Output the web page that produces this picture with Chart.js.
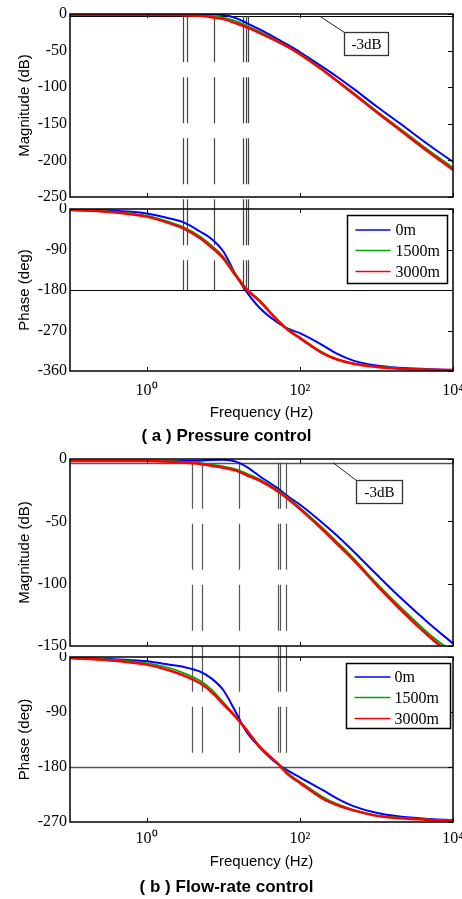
<!DOCTYPE html>
<html>
<head>
<meta charset="utf-8">
<title>Bode plots</title>
<script src="https://cdn.jsdelivr.net/npm/chart.js@4.4.1/dist/chart.umd.min.js"></script>
<style>
  body { margin: 0; background: #fff; }
  #wrap { position: relative; width: 462px; height: 899px; overflow: hidden; }
  #wrap canvas { position: absolute; left: 0; }
</style>
</head>
<body>
<div id="wrap">
  <canvas id="magA" width="462" height="203" style="top:0px"></canvas>
  <canvas id="phaseA" width="462" height="244" style="top:203px"></canvas>
  <canvas id="magB" width="462" height="205" style="top:447px"></canvas>
  <canvas id="phaseB" width="462" height="247" style="top:652px"></canvas>
</div>
<script>
// frequency grid shared by every trace (Hz)
const freqHz = [0.1, 0.3, 1, 2, 3, 5, 7, 10, 15, 20, 30, 50, 70, 100, 200, 300, 500, 1000, 2000, 5000, 10000];
const depthLabels = ['0m', '1500m', '3000m'];
const decadeTicks = [1, 100, 10000];

// (a) pressure control
const pressMag0    = [-0.5, -0.5, -0.5, -0.5, -0.5, -0.5, -0.6, -1.4, -6, -12, -21, -33.5, -42.3, -52, -72.5, -85, -102, -126, -149, -180, -202];
const pressMag1500 = [-0.8, -0.8, -0.8, -0.9, -1.1, -1.8, -3, -5, -10, -16, -24, -36, -44.5, -54, -76, -90, -107.5, -132.5, -156, -187.5, -210];
const pressMag3000 = [-1, -1, -1, -1.2, -1.5, -2.5, -4.3, -7, -13, -18, -26, -37, -45, -55, -77, -91, -109, -134, -158, -190, -213];
const pressPh0     = [-1, -3, -10, -21, -29, -50, -66, -94, -150, -183, -220, -251, -266, -276, -303, -321, -337, -348, -353, -356, -358];
const pressPh1500  = [-2, -5, -15, -29, -40, -61, -81, -106, -148, -176, -203, -244, -267, -285, -319, -333, -343, -350, -354, -357, -358];
const pressPh3000  = [-2, -6, -17, -32, -43, -65, -85, -110, -151, -178, -205, -246, -269, -287, -321, -334, -344, -351, -355, -357, -358];

// (b) flow-rate control
const flowMag0    = [-1.5, -1.5, -1.5, -1.5, -1.5, -1.4, -0.8, -0.6, -2.3, -6.2, -13.8, -23, -30, -36.5, -51.5, -61, -74, -92.5, -110.5, -132.5, -148];
const flowMag1500 = [-1.5, -1.5, -1.5, -1.8, -2.3, -3.3, -4.5, -6, -8.5, -11.5, -16.3, -24.5, -31, -39, -55.5, -66, -79.5, -99.5, -118, -141, -155];
const flowMag3000 = [-1.6, -1.6, -1.7, -2.2, -2.8, -4, -5.4, -7, -9.5, -12.9, -17.4, -25.5, -32, -40, -57, -67.5, -81, -101, -120, -143, -158];
const flowPh0     = [-1, -3, -7, -12.5, -16, -24, -35, -54, -93, -122, -148, -174, -186, -197, -218, -231, -244, -255, -261, -265, -267];
const flowPh1500  = [-1.5, -4, -10, -18, -26, -39, -53, -74, -99, -118, -146, -172, -190, -204, -229, -240, -250, -259, -263, -266, -267.5];
const flowPh3000  = [-2, -5, -12.5, -22, -30, -43, -57, -77, -100, -119, -147, -173, -192, -206, -232, -242, -251, -260, -264, -266.7, -268];

// bandwidth markers (Hz)
const pressMarkers = [3.0, 3.39, 7.62, 18.2, 19.7, 21.2];
const flowMarkers  = [3.94, 5.22, 16, 52.7, 54.8, 65.1];

const traceColors = ['#0000ff', '#00a600', '#ff0000'];
const traceWidths = [2, 1.8, 2.5];

const serif = 'Liberation Serif';
const sans = 'Liberation Sans';

function traces(sets) {
    return sets.map((vals, i) => ({
        label: depthLabels[i],
        data: freqHz.map((f, k) => ({ x: f, y: vals[k] })),
        borderColor: traceColors[i],
        borderWidth: traceWidths[i],
        pointRadius: 0,
        fill: false,
        cubicInterpolationMode: 'monotone',
        order: 3 - i
    }));
}

function supDigits(n) {
    const map = { '-': '\u207b', '0': '\u2070', '1': '\u00b9', '2': '\u00b2', '3': '\u00b3', '4': '\u2074' };
    return String(n).split('').map(c => map[c]).join('');
}

// frame, inward ticks, reference line, markers, legend and note
function bodeDecor(cfg) {
    return {
        id: 'bodeDecor',
        beforeDatasetsDraw(chart) {
            const { ctx, chartArea: a, scales: { x, y } } = chart;
            ctx.save();
            const yr = Math.round(y.getPixelForValue(cfg.refValue)) + 0.5;
            ctx.strokeStyle = cfg.refColor;
            ctx.lineWidth = cfg.refWidth;
            ctx.beginPath();
            ctx.moveTo(a.left, yr);
            ctx.lineTo(a.right, yr);
            ctx.stroke();

            const m = cfg.markers;
            let y0, y1, offset = 0;
            if (m.partner) {
                const p = m.partner();
                y0 = 0;
                y1 = y.getPixelForValue(m.endValue);
                offset = p.height - p.scales.y.getPixelForValue(m.startValue);
            } else {
                y0 = y.getPixelForValue(m.startValue);
                y1 = chart.height;
            }
            ctx.setLineDash([46, 15]);
            ctx.lineDashOffset = offset;
            ctx.strokeStyle = m.color;
            ctx.lineWidth = m.width;
            m.freqs.forEach(f => {
                const px = Math.round(x.getPixelForValue(f)) + 0.5;
                ctx.beginPath();
                ctx.moveTo(px, y0);
                ctx.lineTo(px, y1);
                ctx.stroke();
            });
            ctx.restore();
        },
        afterDatasetsDraw(chart) {
            const { ctx, chartArea: a, scales: { x, y } } = chart;
            ctx.save();
            ctx.strokeStyle = '#000';
            ctx.lineWidth = 1.5;
            ctx.strokeRect(a.left, a.top, a.right - a.left, a.bottom - a.top);

            ctx.lineWidth = 1;
            x.ticks.forEach(t => {
                const px = Math.round(x.getPixelForValue(t.value)) + 0.5;
                ctx.beginPath();
                ctx.moveTo(px, a.top); ctx.lineTo(px, a.top + 4);
                ctx.moveTo(px, a.bottom); ctx.lineTo(px, a.bottom - 4);
                ctx.stroke();
            });
            y.ticks.forEach(t => {
                const py = Math.round(y.getPixelForValue(t.value)) + 0.5;
                ctx.beginPath();
                ctx.moveTo(a.right, py); ctx.lineTo(a.right - 5, py);
                ctx.stroke();
            });

            if (cfg.note) {
                const n = cfg.note;
                const lx = x.getPixelForValue(n.lineFreq), ly = y.getPixelForValue(cfg.refValue);
                const bx = Math.round(x.getPixelForValue(n.boxFreq)) + 0.5;
                const by = Math.round(y.getPixelForValue(n.boxDb)) + 0.5;
                ctx.strokeStyle = '#222';
                ctx.lineWidth = 1;
                ctx.beginPath();
                ctx.moveTo(lx, ly); ctx.lineTo(bx, by);
                ctx.stroke();
                ctx.fillStyle = '#fff';
                ctx.fillRect(bx, by, n.w, n.h);
                ctx.lineWidth = 1.3;
                ctx.strokeStyle = '#333';
                ctx.strokeRect(bx, by, n.w, n.h);
                ctx.fillStyle = '#000';
                ctx.font = `15px "${serif}"`;
                ctx.textAlign = 'center';
                ctx.textBaseline = 'middle';
                ctx.fillText(n.text, bx + n.w / 2, by + n.h / 2 + 1);
            }

            if (cfg.legend) {
                const g = cfg.legend;
                const left = Math.round(a.right - g.right - g.w) + 0.5;
                const top = Math.round(a.top + g.top) + 0.5;
                ctx.fillStyle = '#fff';
                ctx.fillRect(left, top, g.w, g.h);
                ctx.strokeStyle = '#000';
                ctx.lineWidth = 1.5;
                ctx.strokeRect(left, top, g.w, g.h);
                ctx.font = `16px "${serif}"`;
                ctx.textAlign = 'left';
                ctx.textBaseline = 'middle';
                chart.data.datasets.forEach((ds, i) => {
                    const ry = top + g.rows[i];
                    ctx.strokeStyle = ds.borderColor;
                    ctx.lineWidth = 1.5;
                    ctx.beginPath();
                    ctx.moveTo(left + g.lineFrom, ry); ctx.lineTo(left + g.lineTo, ry);
                    ctx.stroke();
                    ctx.fillStyle = '#000';
                    ctx.fillText(ds.label, left + g.textX, ry + 1);
                });
            }
            ctx.restore();
        }
    };
}

function makeChart(id, sets, opt) {
    const bottomAxis = !!opt.caption;
    return new Chart(document.getElementById(id), {
        type: 'line',
        data: { datasets: traces(sets) },
        options: {
            responsive: false,
            animation: false,
            devicePixelRatio: 1,
            events: [],
            layout: { padding: { top: opt.padTop, bottom: opt.padBottom, left: 0, right: 9 } },
            plugins: {
                legend: { display: false },
                tooltip: { enabled: false },
                title: {
                    display: bottomAxis,
                    position: 'bottom',
                    text: opt.caption || '',
                    color: '#000',
                    font: { family: sans, size: 17, weight: 'bold', lineHeight: 1 },
                    padding: { top: opt.captionGap || 0, bottom: 0 }
                }
            },
            scales: {
                x: {
                    type: 'logarithmic',
                    min: 0.1,
                    max: 10000,
                    afterBuildTicks: s => { s.ticks = decadeTicks.map(v => ({ value: v })); },
                    grid: { display: false, drawTicks: false },
                    border: { display: false },
                    ticks: {
                        display: bottomAxis,
                        autoSkip: false,
                        maxRotation: 0,
                        padding: opt.tickPad || 0,
                        color: '#000',
                        font: { family: serif, size: 16 },
                        callback: v => '10' + supDigits(Math.round(Math.log10(v)))
                    },
                    title: {
                        display: bottomAxis,
                        text: 'Frequency (Hz)',
                        color: '#000',
                        font: { family: sans, size: 15 },
                        padding: { top: 0, bottom: 6 }
                    },
                    afterFit: s => { s.height = opt.xHeight || 0; s.paddingLeft = 0; s.paddingRight = 0; }
                },
                y: {
                    min: opt.yMin,
                    max: 0,
                    grid: { display: false, drawTicks: false },
                    border: { display: false },
                    ticks: { stepSize: opt.yStep, color: '#000', padding: 3, font: { family: serif, size: 16 } },
                    title: {
                        display: true,
                        text: opt.yTitle,
                        color: '#000',
                        font: { family: sans, size: 15 },
                        padding: { top: 16, bottom: 0 }
                    },
                    afterFit: s => { s.width = 70; s.paddingTop = 0; s.paddingBottom = 0; }
                }
            }
        },
        plugins: [bodeDecor(opt.decor)]
    });
}

const magA = makeChart('magA', [pressMag0, pressMag1500, pressMag3000], {
    padTop: 14, padBottom: 6, yMin: -250, yStep: 50, yTitle: 'Magnitude (dB)',
    decor: {
        refValue: -3, refColor: '#000', refWidth: 1,
        markers: { freqs: pressMarkers, startValue: -3, color: '#444', width: 1.2 },
        note: { text: '-3dB', lineFreq: 182, boxFreq: 378, boxDb: -25, w: 44, h: 23 }
    }
});

makeChart('phaseA', [pressPh0, pressPh1500, pressPh3000], {
    padTop: 6, padBottom: 2, yMin: -360, yStep: 90, yTitle: 'Phase (deg)',
    xHeight: 57, tickPad: 10, caption: '( a ) Pressure control',
    decor: {
        refValue: -180, refColor: '#000', refWidth: 1,
        markers: { freqs: pressMarkers, partner: () => magA, startValue: -3, endValue: -180, color: '#444', width: 1.2 },
        legend: { right: 6, top: 6, w: 100, h: 68, rows: [14.5, 35, 56], lineFrom: 8, lineTo: 43, textX: 48 }
    }
});

const magB = makeChart('magB', [flowMag0, flowMag1500, flowMag3000], {
    padTop: 12, padBottom: 6, yMin: -150, yStep: 50, yTitle: 'Magnitude (dB)',
    decor: {
        refValue: -3, refColor: '#555', refWidth: 1.5,
        markers: { freqs: flowMarkers, startValue: -3, color: '#555', width: 1.2 },
        note: { text: '-3dB', lineFreq: 272, boxFreq: 537, boxDb: -17, w: 46, h: 23 }
    }
});

makeChart('phaseB', [flowPh0, flowPh1500, flowPh3000], {
    padTop: 5, padBottom: 3, yMin: -270, yStep: 90, yTitle: 'Phase (deg)',
    xHeight: 55, tickPad: 7, caption: '( b ) Flow-rate control', captionGap: 2,
    decor: {
        refValue: -180, refColor: '#555', refWidth: 1.5,
        markers: { freqs: flowMarkers, partner: () => magB, startValue: -3, endValue: -160, color: '#555', width: 1.2 },
        legend: { right: 3, top: 6, w: 104, h: 65, rows: [13.5, 34, 55], lineFrom: 8, lineTo: 44, textX: 48 }
    }
});
</script>
</body>
</html>
